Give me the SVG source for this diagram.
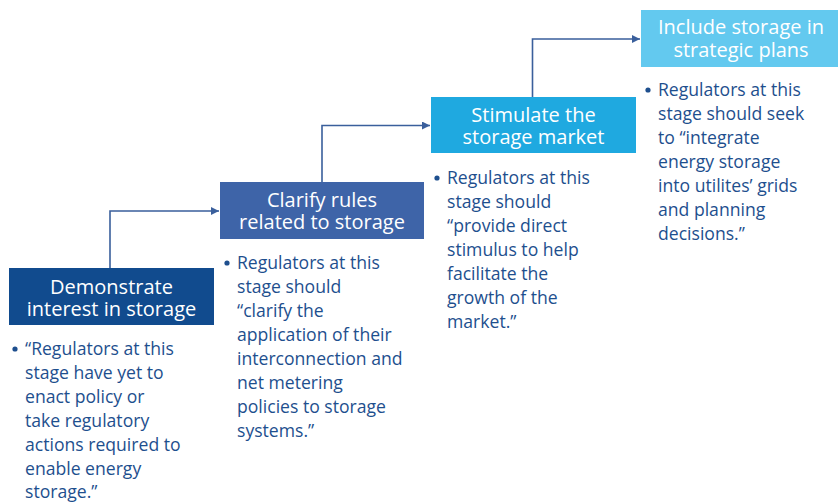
<svg xmlns="http://www.w3.org/2000/svg" width="838" height="502" viewBox="0 0 838 502">
<defs>
<style>
.title{font-family:"Open Sans","Noto Sans",sans-serif;font-size:20px;fill:#ffffff;text-anchor:middle}
.body{font-family:"Open Sans","Noto Sans",sans-serif;font-size:17.6px;fill:#1e4f8e}
.bul{fill:#1e4f8e}
.conn{fill:none;stroke:#3a5f9c;stroke-width:1.6}
</style>
<marker id="arr" viewBox="0 0 10 10" refX="10" refY="5" markerWidth="5" markerHeight="5" markerUnits="strokeWidth" orient="auto">
<path d="M0,0 L10,5 L0,10 z" fill="#3a5f9c"/>
</marker>
</defs>
<rect width="838" height="502" fill="#ffffff"/>
<g id="connectors">
<path class="conn" d="M110,268 V211 H219" marker-end="url(#arr)"/>
<path class="conn" d="M322,182 V125.5 H430" marker-end="url(#arr)"/>
<path class="conn" d="M532.5,97 V39 H640" marker-end="url(#arr)"/>
</g>
<g id="node1">
<rect x="9" y="268" width="205" height="57" fill="#114b8e"/>
<text class="title" x="111.5" y="294">Demonstrate</text>
<text class="title" x="111.5" y="316">interest in storage</text>
<circle class="bul" cx="15" cy="349" r="2.6"/>
<text class="body" x="25" y="355">“Regulators at this</text>
<text class="body" x="25" y="379">stage have yet to</text>
<text class="body" x="25" y="403">enact policy or</text>
<text class="body" x="25" y="427">take regulatory</text>
<text class="body" x="25" y="451">actions required to</text>
<text class="body" x="25" y="475">enable energy</text>
<text class="body" x="25" y="498">storage.”</text>
</g>
<g id="node2">
<rect x="220" y="182" width="204" height="57" fill="#3e64a8"/>
<text class="title" x="322" y="207">Clarify rules</text>
<text class="title" x="322" y="229">related to storage</text>
<circle class="bul" cx="227" cy="263" r="2.6"/>
<text class="body" x="237" y="269">Regulators at this</text>
<text class="body" x="237" y="293">stage should</text>
<text class="body" x="237" y="317">“clarify the</text>
<text class="body" x="237" y="341">application of their</text>
<text class="body" x="237" y="365">interconnection and</text>
<text class="body" x="237" y="389">net metering</text>
<text class="body" x="237" y="413">policies to storage</text>
<text class="body" x="237" y="437">systems.”</text>
</g>
<g id="node3">
<rect x="431" y="97" width="205" height="56" fill="#1fa9e0"/>
<text class="title" x="533.5" y="122">Stimulate the</text>
<text class="title" x="533.5" y="144">storage market</text>
<circle class="bul" cx="437" cy="178" r="2.6"/>
<text class="body" x="447" y="184">Regulators at this</text>
<text class="body" x="447" y="208">stage should</text>
<text class="body" x="447" y="232">“provide direct</text>
<text class="body" x="447" y="256">stimulus to help</text>
<text class="body" x="447" y="280">facilitate the</text>
<text class="body" x="447" y="304">growth of the</text>
<text class="body" x="447" y="328">market.”</text>
</g>
<g id="node4">
<rect x="641" y="10" width="197" height="57" fill="#63c9ef"/>
<text class="title" x="741" y="34">Include storage in</text>
<text class="title" x="741" y="57">strategic plans</text>
<circle class="bul" cx="648" cy="90" r="2.6"/>
<text class="body" x="658" y="96">Regulators at this</text>
<text class="body" x="658" y="120">stage should seek</text>
<text class="body" x="658" y="144">to “integrate</text>
<text class="body" x="658" y="168">energy storage</text>
<text class="body" x="658" y="192">into utilites’ grids</text>
<text class="body" x="658" y="216">and planning</text>
<text class="body" x="658" y="240">decisions.”</text>
</g>
</svg>
